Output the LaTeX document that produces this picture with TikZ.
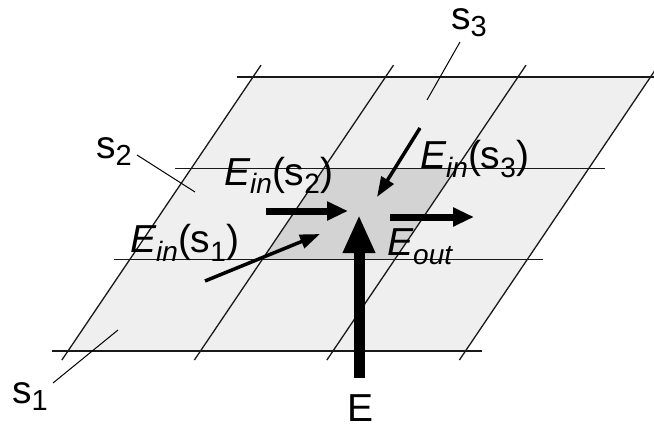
\documentclass[tikz,border=0pt]{standalone}
\usepackage{fontspec}
\setmainfont{Liberation Sans}
\usetikzlibrary{arrows.meta}
\definecolor{planelight}{RGB}{239,239,239}
\definecolor{planedark}{RGB}{211,211,212}
\definecolor{gridink}{RGB}{25,25,25}
\newcommand{\Lsub}[1]{\raisebox{-9pt}{\fontsize{28}{28}\selectfont #1}}
\newcommand{\Ssub}[1]{\raisebox{-7pt}{\fontsize{29}{29}\selectfont #1}}
\begin{document}
\begin{tikzpicture}[x=1pt,y=-1pt,
  every node/.style={inner sep=0pt, font=\fontsize{39}{41}\selectfont},
  gridrule/.style={draw=gridink, line width=1.3pt},
  leader/.style={draw=black, line width=1pt},
  bigarrow/.style={-{Triangle[length=38pt,width=30pt]}, line width=11pt},
  midarrow/.style={-{Triangle[length=21pt,width=18pt]}, line width=7pt},
  slimarrow/.style={-{Triangle[length=20pt,width=14pt]}, line width=3.5pt}]
\clip (0,0) rectangle (654,428);
\fill[white] (0,0) rectangle (654,428);
\begin{scope}[shift={(253,77)}, x={(132.5pt,0pt)}, y={(-61.65pt,-91.3pt)}]
  \fill[planelight] (0,0)--(3,0)--(3,3)--(0,3)--cycle;
  \fill[planedark] (1,1)--(2,1)--(2,2)--(1,2)--cycle;
  \foreach \j in {0,...,3} \draw[gridrule] ([xshift=-16pt]0,\j) -- ([xshift=16pt]3,\j);
  \foreach \i in {0,...,3} \draw[gridrule] (\i,-0.13) -- (\i,3.1);
\end{scope}
% labels
\node[anchor=base west] (s1) at (12,403) {s\Ssub{1}};
\node[anchor=base west] (s2) at (96,158) {s\Ssub{2}};
\node[anchor=base west] (s3) at (451,30) {s\Ssub{3}};
\node[anchor=base west] (E) at (347,421) {E};
\node[anchor=base west] (ein2) at (224,185) {{\itshape E}\Lsub{\itshape in}(s\Lsub{2})};
\node[anchor=base west] (ein3) at (420,168) {{\itshape E}\Lsub{\itshape in}(s\Lsub{3})};
\node[anchor=base west] (ein1) at (130,252) {{\itshape E}\Lsub{\itshape in}(s\Lsub{1})};
\node[anchor=base west] (eout) at (387,255) {{\itshape E}\Lsub{\itshape out}};
% leader coordinates
\coordinate (l1a) at (53,383); \coordinate (l1b) at (118,330);
\coordinate (l2a) at (137,155); \coordinate (l2b) at (195,192);
\coordinate (l3a) at (460,42); \coordinate (l3b) at (427,100);
\draw[leader] (l1a) -- (l1b);
\draw[leader] (l2a) -- (l2b);
\draw[leader] (l3a) -- (l3b);
% arrow coordinates
\coordinate (ebot) at (359,378); \coordinate (etip) at (359,215);
\coordinate (a2s) at (266,211); \coordinate (a2t) at (348,211);
\coordinate (aos) at (390,217); \coordinate (aot) at (474,217);
\coordinate (a3s) at (420,128); \coordinate (a3t) at (377,197);
\coordinate (a1s) at (205,281); \coordinate (a1t) at (320,234);
\draw[bigarrow] (ebot) -- (etip);
\draw[midarrow] (a2s) -- (a2t);
\draw[midarrow] (aos) -- (aot);
\draw[slimarrow] (a3s) -- (a3t);
\draw[slimarrow] (a1s) -- (a1t);
\end{tikzpicture}
\end{document}
